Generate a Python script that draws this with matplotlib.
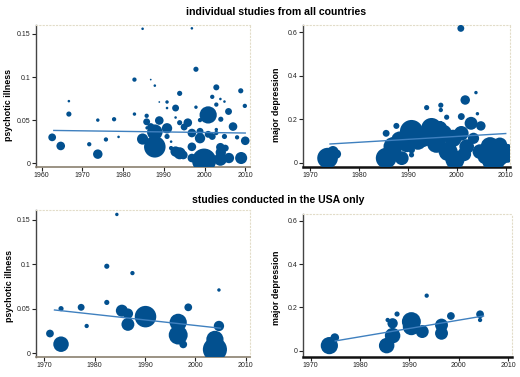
import numpy as np
import matplotlib
matplotlib.use('Agg')
import matplotlib.pyplot as plt

plt.rcParams['font.family'] = ['Liberation Sans', 'DejaVu Sans']

# all countries, psychotic illness: year, prevalence, study weight
psy_all_year = [1962.6, 1964.7, 1966.7, 1966.7, 1971.7, 1973.8, 1973.8, 1975.8, 1977.8, 1978.9,
                1982.8, 1982.8, 1984.8, 1984.8, 1985.8, 1985.8, 1985.9, 1986.8, 1986.8, 1987.8,
                1987.8, 1987.8, 1988.9, 1988.9, 1990.8, 1990.8, 1990.8, 1990.8, 1991.8, 1991.8,
                1992.9, 1992.9, 1992.9, 1993.9, 1993.9, 1993.9, 1994.8, 1995.0, 1995.9, 1996.9,
                1996.9, 1996.9, 1996.9, 1997.9, 1997.9, 1998.9, 1998.9, 1998.9, 1999.9, 2000.9,
                2000.9, 2001.9, 2001.9, 2002.9, 2002.9, 2002.9, 2002.9, 2003.9, 2004.0, 2003.9,
                2004.0, 2003.9, 2004.9, 2004.9, 2005.1, 2005.9, 2006.0, 2007.0, 2008.0, 2008.9,
                2009.0, 2009.9, 2010.0]
psy_all_val = [0.030, 0.020, 0.072, 0.057, 0.022, 0.0105, 0.050, 0.0275, 0.051, 0.0305,
               0.097, 0.057, 0.156, 0.028, 0.055, 0.048, 0.041, 0.097, 0.0425, 0.090,
               0.036, 0.019, 0.0495, 0.071, 0.071, 0.064, 0.0405, 0.031, 0.025, 0.0175,
               0.064, 0.053, 0.0135, 0.081, 0.047, 0.0115, 0.0095, 0.042, 0.047, 0.1565,
               0.035, 0.019, 0.006, 0.109, 0.065, 0.050, 0.037, 0.029, 0.003, 0.056,
               0.0335, 0.077, 0.031, 0.088, 0.068, 0.035, 0.039, 0.0745, 0.051, 0.0185,
               0.0125, 0.0045, 0.0715, 0.031, 0.0175, 0.060, 0.006, 0.0425, 0.030, 0.084,
               0.006, 0.0665, 0.026]
psy_all_w = [9, 10, 3, 6, 5, 11, 4, 5, 5, 3,
             5, 4, 3, 13, 5, 8, 4, 2, 8, 3,
             18, 25, 10, 2, 4, 3, 12, 6, 3, 5,
             8, 3, 12, 6, 6, 14, 10, 8, 10, 3,
             10, 10, 10, 6, 4, 5, 8, 12, 28, 20,
             8, 5, 8, 7, 5, 5, 4, 3, 6, 10,
             12, 15, 3, 6, 8, 8, 12, 10, 5, 6,
             14, 5, 10]
psy_all_fit_x = [1963, 2010]
psy_all_fit_y = [0.038, 0.035]

# all countries, major depression
dep_all_year = [1973.5, 1974.6, 1975.3, 1985.5, 1988.7, 1985.5, 1987.6, 1986.9, 1988.3, 1990.7,
                1989.7, 1990.7, 1990.7, 1993.1, 1994.8, 1995.8, 1993.8, 1996.7, 1996.7, 1997.9,
                1997.2, 1999.2, 1998.2, 1999.6, 2000.9, 2000.9, 2001.7, 2003.9, 2002.9, 2004.9,
                2004.2, 2002.0, 2003.4, 2004.7, 2006.8, 2007.5, 2008.8, 2010.2, 2008.7, 1996.5,
                2000.8, 1996.7, 1991.8, 1992.0, 1986.5, 2001.5, 2005.8]
dep_all_val = [0.022, 0.052, 0.041, 0.022, 0.022, 0.136, 0.170, 0.075, 0.105, 0.144,
               0.083, 0.060, 0.037, 0.113, 0.159, 0.090, 0.254, 0.265, 0.243, 0.210,
               0.136, 0.113, 0.052, 0.014, 0.213, 0.136, 0.289, 0.323, 0.182, 0.170,
               0.226, 0.075, 0.113, 0.052, 0.075, 0.014, 0.083, 0.044, 0.030, 0.159,
               0.618, 0.187, 0.120, 0.100, 0.050, 0.040, 0.030]
dep_all_w = [24, 13, 11, 24, 16, 8, 7, 22, 20, 27,
             17, 8, 6, 20, 24, 22, 6, 6, 5, 6,
             20, 20, 22, 22, 8, 17, 11, 4, 15, 11,
             4, 17, 13, 17, 22, 27, 17, 22, 22, 17,
             8, 3, 20, 20, 16, 16, 18]
dep_all_fit_x = [1974, 2010]
dep_all_fit_y = [0.087, 0.135]

# USA only, psychotic illness
psy_usa_year = [1971.1, 1973.3, 1973.3, 1977.3, 1978.4, 1982.4, 1982.4, 1984.4, 1985.4, 1986.6,
                1986.6, 1987.5, 1990.1, 1996.6, 1996.6, 1997.6, 1998.6, 2003.9, 2003.9, 2004.7,
                2004.7]
psy_usa_val = [0.022, 0.010, 0.050, 0.0515, 0.0305, 0.0977, 0.057, 0.156, 0.0477, 0.0444,
               0.0323, 0.090, 0.041, 0.0346, 0.0203, 0.0098, 0.0515, 0.0154, 0.0041, 0.0305,
               0.071]
psy_usa_w = [9, 18, 6, 8, 5, 6, 6, 4, 14, 12,
             15, 5, 25, 20, 22, 9, 9, 20, 28, 12,
             4]
psy_usa_fit_x = [1972, 2005]
psy_usa_fit_y = [0.0485, 0.028]

# USA only, major depression
dep_usa_year = [1973.8, 1974.9, 1985.4, 1985.6, 1986.6, 1986.6, 1987.5, 1990.4, 1990.4, 1992.6,
                1993.5, 1996.5, 1996.5, 1998.4, 2004.3, 2004.3]
dep_usa_val = [0.023, 0.060, 0.023, 0.1415, 0.069, 0.126, 0.169, 0.134, 0.111, 0.088,
               0.254, 0.118, 0.080, 0.160, 0.168, 0.1415]
dep_usa_w = [20, 10, 18, 5, 18, 12, 6, 22, 20, 15,
             5, 15, 15, 9, 9, 5]
dep_usa_fit_x = [1975, 2005]
dep_usa_fit_y = [0.0446, 0.160]

dot_col = '#02508f'
line_col = '#3f80bf'

fig = plt.figure(figsize=(5.2, 3.77), dpi=100)


def panel(rect, yrs, vals, w, fx, fy, xlim, ylim, xticks, yticks, ylabels, ylab, lab_xy, thick):
    ax = fig.add_axes(rect)
    s = (0.62 * np.array(w)) ** 2
    ax.scatter(yrs, vals, s=s, color=dot_col, linewidths=0, zorder=3)
    ax.plot(fx, fy, color=line_col, lw=1.0, zorder=4)
    ax.set_xlim(*xlim)
    ax.set_ylim(*ylim)
    ax.set_xticks(xticks)
    ax.set_xticklabels([str(t) for t in xticks], fontsize=5)
    ax.set_yticks(yticks)
    ax.set_yticklabels(ylabels, fontsize=5)
    ax.tick_params(length=3, width=0.8, pad=1, colors='#222222')
    ax.set_ylabel(ylab, fontsize=6.4, fontweight='bold')
    ax.yaxis.set_label_coords(*lab_xy)
    for side in ['top', 'right']:
        ax.spines[side].set_linestyle((0, (1, 2)))
        ax.spines[side].set_color('#e2dcc8')
        ax.spines[side].set_linewidth(0.8)
    ax.spines['left'].set_color('#444444')
    ax.spines['left'].set_linewidth(1.0)
    ax.spines['bottom'].set_color('#111111' if thick else '#8a8070')
    ax.spines['bottom'].set_linewidth(1.8 if thick else 1.2)
    return ax


panel([0.069, 0.558, 0.412, 0.376], psy_all_year, psy_all_val, psy_all_w,
      psy_all_fit_x, psy_all_fit_y, (1958.6, 2011.2), (-0.004, 0.1605),
      [1960, 1970, 1980, 1990, 2000, 2010], [0, 0.05, 0.1, 0.15],
      ['0', '0.05', '0.1', '0.15'], 'psychotic illness', (-0.105, 0.435), False)
panel([0.583, 0.558, 0.398, 0.376], dep_all_year, dep_all_val, dep_all_w,
      dep_all_fit_x, dep_all_fit_y, (1968.5, 2010.9), (-0.017, 0.634),
      [1970, 1980, 1990, 2000, 2010], [0, 0.2, 0.4, 0.6],
      ['0', '0.2', '0.4', '0.6'], 'major depression', (-0.108, 0.44), True)
panel([0.069, 0.054, 0.412, 0.389], psy_usa_year, psy_usa_val, psy_usa_w,
      psy_usa_fit_x, psy_usa_fit_y, (1968.3, 2010.9), (-0.004, 0.161),
      [1970, 1980, 1990, 2000, 2010], [0, 0.05, 0.1, 0.15],
      ['0', '0.05', '0.1', '0.15'], 'psychotic illness', (-0.1, 0.485), False)
panel([0.583, 0.054, 0.401, 0.378], dep_usa_year, dep_usa_val, dep_usa_w,
      dep_usa_fit_x, dep_usa_fit_y, (1968.5, 2010.7), (-0.028, 0.631),
      [1970, 1980, 1990, 2000, 2010], [0, 0.2, 0.4, 0.6],
      ['0', '0.2', '0.4', '0.6'], 'major depression', (-0.104, 0.48), True)

fig.text(0.53, 0.968, 'individual studies from all countries', ha='center', va='center',
         fontsize=7.6, fontweight='bold')
fig.text(0.535, 0.47, 'studies conducted in the USA only', ha='center', va='center',
         fontsize=7.6, fontweight='bold')

fig.savefig('out.png', dpi=100)
